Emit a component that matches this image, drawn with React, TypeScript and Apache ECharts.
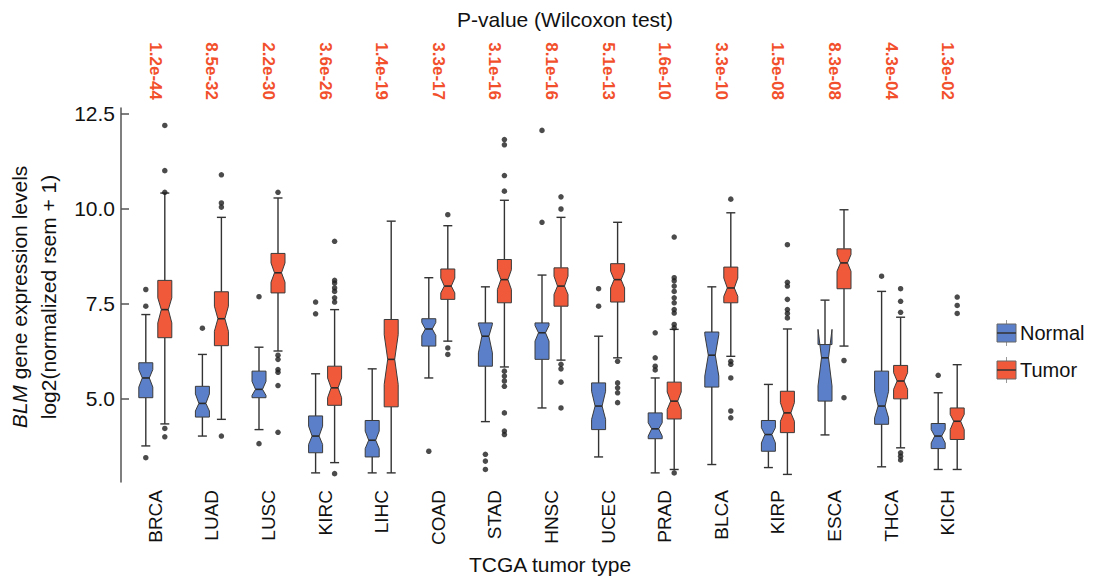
import React, { useEffect, useRef } from "react";
import * as echarts from "echarts";

const categories = ["BRCA", "LUAD", "LUSC", "KIRC", "LIHC", "COAD", "STAD", "HNSC", "UCEC", "PRAD", "BLCA", "KIRP", "ESCA", "THCA", "KICH"];
const pValues = ["1.2e-44", "8.5e-32", "2.2e-30", "3.6e-26", "1.4e-19", "3.3e-17", "3.1e-16", "8.1e-16", "5.1e-13", "1.6e-10", "3.3e-10", "1.5e-08", "8.3e-08", "4.3e-04", "1.3e-02"];
const yTicks = [5, 7.5, 10, 12.5];

// [min, q1, median, q3, max, notchLow, notchHigh]
const normalStats = [
  [3.75, 5.02, 5.54, 5.94, 7.21, 5.3, 5.76],
  [4.01, 4.51, 4.87, 5.32, 6.16, 4.67, 5.12],
  [4.18, 5.02, 5.24, 5.72, 6.35, 5.08, 5.45],
  [3.04, 3.57, 4.01, 4.54, 5.65, 3.79, 4.27],
  [3.04, 3.46, 3.9, 4.42, 5.78, 3.68, 4.14],
  [5.54, 6.38, 6.83, 7.1, 8.18, 6.66, 7.0],
  [4.39, 5.85, 6.64, 6.99, 7.94, 6.2, 6.95],
  [4.75, 6.03, 6.73, 6.99, 8.25, 6.51, 6.92],
  [3.46, 4.18, 4.8, 5.41, 6.64, 4.45, 5.19],
  [3.04, 3.94, 4.2, 4.62, 5.54, 4.01, 4.36],
  [3.26, 5.3, 6.14, 6.75, 7.94, 5.59, 6.68],
  [3.18, 3.61, 4.05, 4.42, 5.37, 3.83, 4.23],
  [4.04, 4.93, 6.07, 6.42, 7.59, 5.33, 6.82],
  [3.2, 4.32, 4.8, 5.72, 7.82, 4.49, 5.19],
  [3.13, 3.68, 4.01, 4.34, 5.15, 3.83, 4.18],
];

const tumorStats = [
  [4.33, 6.6, 7.34, 8.11, 10.41, 6.99, 7.65],
  [4.45, 6.39, 7.1, 7.81, 9.77, 6.77, 7.43],
  [6.25, 7.78, 8.31, 8.82, 10.28, 8.06, 8.57],
  [3.31, 4.82, 5.28, 5.85, 7.34, 5.02, 5.54],
  [3.04, 4.78, 6.03, 7.08, 9.67, 5.37, 6.68],
  [6.51, 7.61, 7.96, 8.41, 9.55, 7.78, 8.17],
  [5.83, 7.52, 8.13, 8.66, 10.22, 7.87, 8.39],
  [6.01, 7.43, 7.96, 8.44, 9.77, 7.74, 8.22],
  [6.07, 7.54, 8.13, 8.55, 9.64, 7.91, 8.35],
  [3.13, 4.46, 4.93, 5.43, 6.82, 4.71, 5.17],
  [6.11, 7.52, 7.91, 8.46, 9.89, 7.69, 8.17],
  [3.0, 4.1, 4.62, 5.19, 6.83, 4.4, 4.89],
  [6.38, 7.89, 8.57, 8.94, 9.97, 8.35, 8.79],
  [3.7, 4.99, 5.46, 5.87, 7.14, 5.24, 5.68],
  [3.13, 3.92, 4.4, 4.75, 5.89, 4.18, 4.58],
];

const normalOutliers = [
  [7.43, 7.87, 3.44],
  [6.85],
  [7.68, 3.81],
  [7.54, 7.23],
  [],
  [3.61],
  [3.53, 3.35, 3.13],
  [12.06, 9.64],
  [7.89, 7.43],
  [6.73, 6.07, 5.85, 5.75],
  [],
  [],
  [],
  [8.22],
  [5.61],
];

const tumorOutliers = [
  [12.19, 11.0, 10.43, 4.21, 3.99],
  [10.89, 10.15, 10.04, 4.01],
  [10.43, 6.14, 6.03, 5.76, 5.69, 5.34, 4.11],
  [9.14, 8.11, 8.04, 7.91, 7.82, 7.65, 7.54, 3.02],
  [],
  [9.84, 6.33, 6.16],
  [11.82, 11.68, 10.87, 10.46, 5.72, 5.59, 5.46, 5.32, 4.62, 4.14, 4.05],
  [10.31, 9.99, 5.9, 5.78, 5.43, 4.75],
  [5.98, 5.41, 5.28, 5.15, 4.89],
  [9.25, 8.18, 8.1, 7.96, 7.82, 7.65, 7.52, 7.34, 7.25, 6.95, 6.86, 3.04],
  [10.25, 5.98, 5.9, 5.54, 4.67, 4.49],
  [9.05, 8.06, 7.96, 7.61, 7.34, 7.24, 7.12],
  [6.0, 5.02],
  [7.89, 7.56, 7.27, 3.57, 3.48, 3.38],
  [7.67, 7.45, 7.24],
];

const FONT = "'Liberation Sans', Arial, Helvetica, sans-serif";
const BLUE = "#5b80c9";
const RED = "#f05a3a";
const PRED = "#f2502c";
const EDGE = "#333333";
const DX = 9.5;

function makeRender(dx: number, color: string) {
  return (params: any, api: any) => {
    const xi = api.value(0);
    const cx = api.coord([xi, api.value(3)])[0] + dx;
    const Y = (v: number) => api.coord([xi, v])[1];
    const mn = Y(api.value(1));
    const q1 = Y(api.value(2));
    const md = Y(api.value(3));
    const q3 = Y(api.value(4));
    const mx = Y(api.value(5));
    const nl = Y(api.value(6));
    const nh = Y(api.value(7));
    const hw = 7;
    const nw = 3.5;
    const cw = 4.5;
    const lineStyle = { stroke: EDGE, lineWidth: 1.4 };
    return {
      type: "group",
      children: [
        { type: "line", shape: { x1: cx, y1: mx, x2: cx, y2: q3 }, style: lineStyle },
        { type: "line", shape: { x1: cx, y1: q1, x2: cx, y2: mn }, style: lineStyle },
        { type: "line", shape: { x1: cx - cw, y1: mx, x2: cx + cw, y2: mx }, style: lineStyle },
        { type: "line", shape: { x1: cx - cw, y1: mn, x2: cx + cw, y2: mn }, style: lineStyle },
        {
          type: "polygon",
          shape: {
            points: [
              [cx - hw, q1],
              [cx - hw, nl],
              [cx - nw, md],
              [cx - hw, nh],
              [cx - hw, q3],
              [cx + hw, q3],
              [cx + hw, nh],
              [cx + nw, md],
              [cx + hw, nl],
              [cx + hw, q1],
            ],
          },
          style: { fill: color, stroke: "#3a3a3a", lineWidth: 1 },
        },
        { type: "line", shape: { x1: cx - nw, y1: md, x2: cx + nw, y2: md }, style: { stroke: "#2a2a2a", lineWidth: 1.6 } },
      ],
    };
  };
}

function toOutlierPoints(list: number[][]) {
  const pts: number[][] = [];
  list.forEach((vals, i) => vals.forEach((v) => pts.push([i, v])));
  return pts;
}

function legendItem(y: number, color: string, label: string) {
  return [
    { type: "line", shape: { x1: 1006.5, y1: y - 13, x2: 1006.5, y2: y + 13 }, style: { stroke: "#999", lineWidth: 1 } },
    { type: "rect", shape: { x: 997, y: y - 9, width: 19, height: 18 }, style: { fill: color, stroke: "#666", lineWidth: 1 } },
    { type: "line", shape: { x1: 997, y1: y, x2: 1016, y2: y }, style: { stroke: "#333", lineWidth: 1.5 } },
    { type: "text", x: 1020, y: y, style: { text: label, font: `20px ${FONT}`, fill: "#111", textAlign: "left", textVerticalAlign: "middle" } },
  ];
}

export default function App() {
  const ref = useRef<HTMLDivElement>(null);
  useEffect(() => {
    document.body.style.margin = "0";
    const chart = echarts.init(ref.current!, null, { renderer: "svg" });
    const option: any = {
      animation: false,
      backgroundColor: "#ffffff",
      grid: { left: 127, width: 849, top: 108, bottom: 95 },
      xAxis: [
        {
          type: "category",
          data: categories,
          position: "bottom",
          axisLine: { show: false },
          axisTick: { show: false },
          splitLine: { show: false },
          axisLabel: { rotate: 90, fontSize: 19, color: "#111", fontFamily: FONT, margin: 8, interval: 0 },
        },
        {
          type: "category",
          data: pValues,
          position: "top",
          axisLine: { show: false },
          axisTick: { show: false },
          splitLine: { show: false },
          axisLabel: { rotate: 90, fontSize: 17, fontWeight: "bold", color: PRED, fontFamily: FONT, margin: 8, interval: 0 },
        },
      ],
      yAxis: {
        type: "value",
        min: 2.8,
        max: 12.65,
        offset: 6,
        axisLine: { show: true, lineStyle: { color: "#555", width: 1.5 } },
        axisTick: { show: true, inside: true, length: 8, customValues: yTicks, lineStyle: { color: "#555", width: 1.5 } },
        splitLine: { show: false },
        axisLabel: {
          customValues: yTicks,
          formatter: (v: number) => v.toFixed(1),
          fontSize: 21,
          color: "#111",
          fontFamily: FONT,
          margin: 6,
        },
      },
      series: [
        {
          type: "custom",
          name: "Normal",
          xAxisIndex: 0,
          renderItem: makeRender(-DX, BLUE),
          encode: { x: 0, y: [1, 2, 3, 4, 5] },
          data: normalStats.map((s, i) => [i, ...s]),
          z: 2,
        },
        {
          type: "custom",
          name: "Tumor",
          xAxisIndex: 0,
          renderItem: makeRender(DX, RED),
          encode: { x: 0, y: [1, 2, 3, 4, 5] },
          data: tumorStats.map((s, i) => [i, ...s]),
          z: 2,
        },
        {
          type: "scatter",
          xAxisIndex: 0,
          symbolSize: 5.5,
          symbolOffset: [-DX, 0],
          itemStyle: { color: "#1e1e1e" },
          data: toOutlierPoints(normalOutliers),
          z: 3,
        },
        {
          type: "scatter",
          xAxisIndex: 0,
          symbolSize: 5.5,
          symbolOffset: [DX, 0],
          itemStyle: { color: "#1e1e1e" },
          data: toOutlierPoints(tumorOutliers),
          z: 3,
        },
      ],
      graphic: [
        { type: "text", x: 565, y: 19, style: { text: "P-value (Wilcoxon test)", font: `21px ${FONT}`, fill: "#111", textAlign: "center", textVerticalAlign: "middle" } },
        { type: "text", x: 550, y: 564, style: { text: "TCGA tumor type", font: `21px ${FONT}`, fill: "#111", textAlign: "center", textVerticalAlign: "middle" } },
        {
          type: "text",
          x: 19,
          y: 297,
          rotation: Math.PI / 2,
          style: {
            text: "{i|BLM} gene expression levels",
            font: `21px ${FONT}`,
            fill: "#111",
            textAlign: "center",
            textVerticalAlign: "middle",
            rich: { i: { fontStyle: "italic", fontSize: 21, fontFamily: FONT, fill: "#111" } },
          },
        },
        {
          type: "text",
          x: 48,
          y: 297,
          rotation: Math.PI / 2,
          style: { text: "log2(normalized rsem + 1)", font: `21px ${FONT}`, fill: "#111", textAlign: "center", textVerticalAlign: "middle" },
        },
        ...legendItem(333, BLUE, "Normal"),
        ...legendItem(370, RED, "Tumor"),
      ],
    };
    chart.setOption(option);
    return () => chart.dispose();
  }, []);
  return <div ref={ref} style={{ width: 1094, height: 577 }} />;
}
